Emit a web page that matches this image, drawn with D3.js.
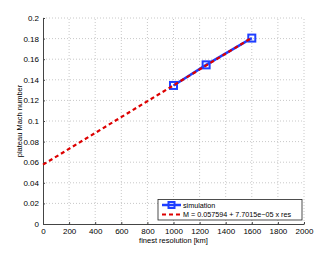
<!DOCTYPE html>
<html>
<head>
<meta charset="utf-8">
<script src="https://cdn.jsdelivr.net/npm/d3@7"></script>
<style>
body { margin: 0; background: #fff; }
svg { display: block; font-family: "Liberation Sans", Arial, sans-serif; }
.grid line { stroke: #c8c8c8; stroke-dasharray: 1,2; }
.axis text { font-size: 8px; fill: #000; }
.axis path, .axis line { stroke: #444; }
</style>
</head>
<body>
<svg id="chart" width="336" height="253"></svg>
<script>
// simulation points
var resolution = [1000, 1250, 1600];
var machSim = [0.1345, 0.1545, 0.1805];

// linear fit M = a + b * res
var fitA = 0.057594;
var fitB = 7.7015e-05;
var fitRes = [0, 1600];

var xTicks = [0, 200, 400, 600, 800, 1000, 1200, 1400, 1600, 1800, 2000];
var yTicks = [0, 0.02, 0.04, 0.06, 0.08, 0.1, 0.12, 0.14, 0.16, 0.18, 0.2];

var legendLabels = ["simulation", "M = 0.057594 + 7.7015e\u221205 x res"];

var margin = {left: 43, top: 18, right: 32, bottom: 29};
var width = 336, height = 253;

var svg = d3.select("#chart");

var x = d3.scaleLinear().domain([0, 2000]).range([margin.left, width - margin.right]);
var y = d3.scaleLinear().domain([0, 0.2]).range([height - margin.bottom, margin.top]);

// grid
var grid = svg.append("g").attr("class", "grid");
grid.selectAll("line.v")
    .data(xTicks.slice(1))
    .enter().append("line")
    .attr("x1", d => x(d)).attr("x2", d => x(d))
    .attr("y1", y(0)).attr("y2", y(0.2));
grid.selectAll("line.h")
    .data(yTicks.slice(1))
    .enter().append("line")
    .attr("x1", x(0)).attr("x2", x(2000))
    .attr("y1", d => y(d)).attr("y2", d => y(d));

// axes
svg.append("g")
    .attr("class", "axis")
    .attr("transform", "translate(0," + y(0) + ")")
    .call(d3.axisBottom(x).tickValues(xTicks).tickSize(-2).tickPadding(4).tickSizeOuter(0)
        .tickFormat(d3.format("d")));

svg.append("g")
    .attr("class", "axis")
    .attr("transform", "translate(" + x(0) + ",0)")
    .call(d3.axisLeft(y).tickValues(yTicks).tickSize(-2).tickPadding(4).tickSizeOuter(0)
        .tickFormat(d => d === 0 ? "0" : String(+d.toFixed(2))));

// axis labels
svg.append("text")
    .attr("x", x(1000)).attr("y", 243)
    .attr("text-anchor", "middle")
    .attr("font-size", 7.5)
    .text("finest resolution [km]");

svg.append("text")
    .attr("transform", "translate(22," + y(0.1) + ") rotate(-90)")
    .attr("text-anchor", "middle")
    .attr("font-size", 7.5)
    .text("plateau Mach number");

// simulation line + markers
var simData = resolution.map((r, i) => ({r: r, m: machSim[i]}));
var line = d3.line().x(d => x(d.r)).y(d => y(d.m));

svg.append("path")
    .datum(simData)
    .attr("d", line)
    .attr("fill", "none")
    .attr("stroke", "#1f3fff")
    .attr("stroke-width", 2.5);

svg.selectAll("rect.marker")
    .data(simData)
    .enter().append("rect")
    .attr("class", "marker")
    .attr("x", d => x(d.r) - 3.5)
    .attr("y", d => y(d.m) - 3.5)
    .attr("width", 7).attr("height", 7)
    .attr("fill", "none")
    .attr("stroke", "#1f3fff")
    .attr("stroke-width", 2);

// fit line
var fitData = fitRes.map(r => ({r: r, m: fitA + fitB * r}));
svg.append("path")
    .datum(fitData)
    .attr("d", line)
    .attr("fill", "none")
    .attr("stroke", "#dd0000")
    .attr("stroke-width", 2.2)
    .attr("stroke-dasharray", "4,3");

// legend
var lg = svg.append("g");
lg.append("rect")
    .attr("x", 158).attr("y", 199.5)
    .attr("width", 144).attr("height", 20.5)
    .attr("fill", "#fff")
    .attr("stroke", "#222")
    .attr("stroke-width", 0.8);

lg.append("line")
    .attr("x1", 162).attr("x2", 181).attr("y1", 205).attr("y2", 205)
    .attr("stroke", "#1f3fff").attr("stroke-width", 2.5);
lg.append("rect")
    .attr("x", 168.5).attr("y", 202).attr("width", 6).attr("height", 6)
    .attr("fill", "none").attr("stroke", "#1f3fff").attr("stroke-width", 2);
lg.append("line")
    .attr("x1", 162).attr("x2", 181).attr("y1", 214.5).attr("y2", 214.5)
    .attr("stroke", "#dd0000").attr("stroke-width", 2.2)
    .attr("stroke-dasharray", "4,3");

lg.selectAll("text")
    .data(legendLabels)
    .enter().append("text")
    .attr("x", 183)
    .attr("y", (d, i) => 207.5 + i * 9.5)
    .attr("font-size", 7.2)
    .text(d => d);
</script>
</body>
</html>
